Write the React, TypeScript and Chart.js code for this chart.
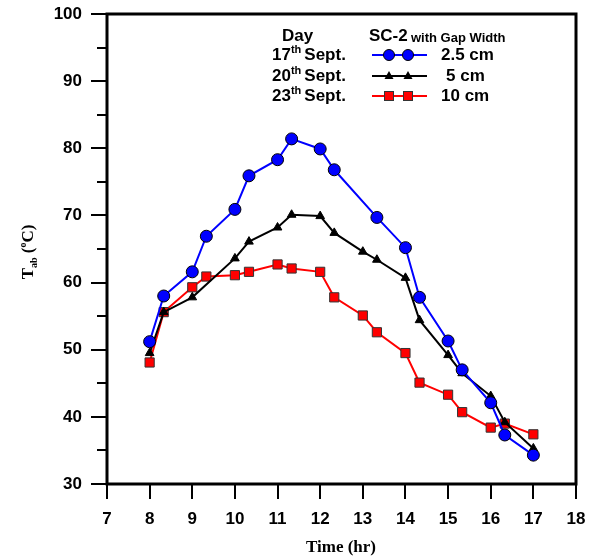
import React, { useEffect, useRef } from "react";
import { Chart, registerables } from "chart.js";

Chart.register(...registerables);

const xBlue = [8, 8.33, 9, 9.33, 10, 10.33, 11, 11.33, 12, 12.33, 13.33, 14, 14.33, 15, 15.33, 16, 16.33, 17];
const yBlue = [51.2, 58.0, 61.6, 66.9, 70.9, 75.9, 78.3, 81.4, 79.9, 76.8, 69.7, 65.2, 57.8, 51.3, 47.0, 42.1, 37.3, 34.3];

const xBlack = [8, 8.33, 9, 10, 10.33, 11, 11.33, 12, 12.33, 13, 13.33, 14, 14.33, 15, 15.33, 16, 16.33, 17];
const yBlack = [49.5, 55.6, 57.8, 63.6, 66.1, 68.2, 70.1, 69.9, 67.4, 64.6, 63.4, 60.7, 54.4, 49.2, 46.5, 43.1, 39.2, 35.3];

const xRed = [8, 8.33, 9, 9.33, 10, 10.33, 11, 11.33, 12, 12.33, 13, 13.33, 14, 14.33, 15, 15.33, 16, 16.33, 17];
const yRed = [48.1, 55.6, 59.3, 60.9, 61.1, 61.6, 62.7, 62.1, 61.6, 57.8, 55.1, 52.6, 49.5, 45.1, 43.3, 40.7, 38.4, 39.0, 37.4];

const dayLabels = ["17", "20", "23"];
const gapLabels = ["2.5 cm", "5 cm", "10 cm"];

const toPts = (xs: number[], ys: number[]) => xs.map((x, i) => ({ x, y: ys[i] }));

const drawPlugin = {
  id: "decor",
  afterDraw(chart: any) {
    const ctx = chart.ctx as CanvasRenderingContext2D;
    const { left, right, top, bottom } = chart.chartArea;
    const xs = chart.scales.x;
    const ys = chart.scales.y;
    ctx.save();
    // box
    ctx.strokeStyle = "#000";
    ctx.lineWidth = 3;
    ctx.strokeRect(left, top, right - left, bottom - top);
    // ticks
    ctx.lineWidth = 2;
    ctx.beginPath();
    for (let v = 7; v <= 18; v++) {
      const px = Math.round(xs.getPixelForValue(v));
      ctx.moveTo(px, bottom);
      ctx.lineTo(px, bottom + 15);
    }
    for (let v = 30; v <= 100; v += 5) {
      const py = Math.round(ys.getPixelForValue(v));
      const len = v % 10 === 0 ? 16 : 10;
      ctx.moveTo(left, py);
      ctx.lineTo(left - len, py);
    }
    ctx.stroke();

    // x title
    ctx.fillStyle = "#000";
    ctx.font = "bold 17px 'Liberation Serif', 'Times New Roman', serif";
    ctx.textAlign = "center";
    ctx.textBaseline = "middle";
    ctx.fillText("Time (hr)", 341, 548);

    // y title (rotated)
    ctx.save();
    ctx.translate(27, 252);
    ctx.rotate(-Math.PI / 2);
    ctx.textAlign = "left";
    ctx.textBaseline = "alphabetic";
    const big = "bold 17px 'Liberation Serif', 'Times New Roman', serif";
    const small = "bold 10px 'Liberation Serif', 'Times New Roman', serif";
    const parts: [string, string, number][] = [
      ["T", big, 0],
      ["ab", small, 4],
      [" (", big, 0],
      ["o", small, -7],
      ["C)", big, 0],
    ];
    let total = 0;
    parts.forEach(([t, f]) => {
      ctx.font = f;
      total += ctx.measureText(t).width;
    });
    let cx = -total / 2;
    parts.forEach(([t, f, dy]) => {
      ctx.font = f;
      ctx.fillText(t, cx, 6 + dy);
      cx += ctx.measureText(t).width;
    });
    ctx.restore();

    // legend
    const sans = "'Liberation Sans', Arial, sans-serif";
    ctx.textBaseline = "middle";
    ctx.textAlign = "left";
    ctx.font = `bold 17px ${sans}`;
    ctx.fillText("Day", 282, 36);
    ctx.fillText("SC-2", 369, 36);
    ctx.font = `bold 13px ${sans}`;
    ctx.fillText("with Gap Width", 411, 38);

    const rowsY = [55, 76, 96];
    const colors = ["#0000FF", "#000000", "#FF0000"];
    rowsY.forEach((ry, i) => {
      let x0 = 272;
      ctx.fillStyle = "#000";
      ctx.font = `bold 17px ${sans}`;
      ctx.fillText(dayLabels[i], x0, ry);
      x0 += ctx.measureText(dayLabels[i]).width;
      ctx.font = `bold 11px ${sans}`;
      ctx.fillText("th", x0, ry - 5);
      x0 += ctx.measureText("th").width + 3;
      ctx.font = `bold 17px ${sans}`;
      ctx.fillText("Sept.", x0, ry);
      // line sample
      ctx.strokeStyle = colors[i];
      ctx.lineWidth = 2;
      ctx.beginPath();
      ctx.moveTo(372, ry);
      ctx.lineTo(427, ry);
      ctx.stroke();
      [389, 408].forEach((mx) => {
        ctx.lineWidth = 1;
        if (i === 0) {
          ctx.beginPath();
          ctx.arc(mx, ry, 5.5, 0, Math.PI * 2);
          ctx.fillStyle = "#0000FF";
          ctx.fill();
          ctx.strokeStyle = "#000";
          ctx.stroke();
        } else if (i === 1) {
          ctx.beginPath();
          ctx.moveTo(mx, ry - 5);
          ctx.lineTo(mx + 4.5, ry + 3);
          ctx.lineTo(mx - 4.5, ry + 3);
          ctx.closePath();
          ctx.fillStyle = "#000";
          ctx.fill();
        } else {
          ctx.fillStyle = "#FF0000";
          ctx.fillRect(mx - 4.5, ry - 4.5, 9, 9);
          ctx.strokeStyle = "#333";
          ctx.strokeRect(mx - 4.5, ry - 4.5, 9, 9);
        }
      });
      ctx.fillStyle = "#000";
      ctx.font = `bold 17px ${sans}`;
      ctx.fillText(gapLabels[i], i === 1 ? 446 : 441, ry);
    });
    ctx.restore();
  },
};

export default function App() {
  const ref = useRef<HTMLCanvasElement | null>(null);
  useEffect(() => {
    if (!ref.current) return;
    const sans = "'Liberation Sans', Arial, sans-serif";
    const chart = new Chart(ref.current, {
      type: "line",
      data: {
        datasets: [
          {
            label: "17th Sept. 2.5 cm",
            data: toPts(xBlue, yBlue),
            borderColor: "#0000FF",
            backgroundColor: "#0000FF",
            pointBackgroundColor: "#0000FF",
            pointBorderColor: "#000",
            pointBorderWidth: 1,
            pointStyle: "circle",
            pointRadius: 6,
            borderWidth: 2,
          },
          {
            label: "20th Sept. 5 cm",
            data: toPts(xBlack, yBlack),
            borderColor: "#000000",
            backgroundColor: "#000000",
            pointBackgroundColor: "#000",
            pointBorderColor: "#000",
            pointBorderWidth: 1,
            pointStyle: "triangle",
            pointRadius: 5,
            borderWidth: 2,
          },
          {
            label: "23th Sept. 10 cm",
            data: toPts(xRed, yRed),
            borderColor: "#FF0000",
            backgroundColor: "#FF0000",
            pointBackgroundColor: "#FF0000",
            pointBorderColor: "#333",
            pointBorderWidth: 1,
            pointStyle: "rect",
            pointRadius: 6.5,
            borderWidth: 2,
          },
        ],
      },
      options: {
        responsive: false,
        animation: false,
        layout: { padding: { top: 14, right: 14, left: 0, bottom: 0 } },
        plugins: { legend: { display: false }, tooltip: { enabled: false } },
        scales: {
          x: {
            type: "linear",
            min: 7,
            max: 18,
            grid: { display: false, drawTicks: false },
            border: { display: false },
            ticks: {
              stepSize: 1,
              autoSkip: false,
              maxRotation: 0,
              padding: 25,
              color: "#000",
              font: { family: sans, size: 17, weight: "bold" },
            },
            afterFit: (s: any) => {
              s.height = 74;
              s.paddingLeft = 0;
              s.paddingRight = 0;
            },
          },
          y: {
            type: "linear",
            min: 30,
            max: 100,
            grid: { display: false, drawTicks: false },
            border: { display: false },
            ticks: {
              stepSize: 10,
              padding: 25,
              color: "#000",
              font: { family: sans, size: 17, weight: "bold" },
            },
            afterFit: (s: any) => {
              s.width = 107;
              s.paddingTop = 0;
              s.paddingBottom = 0;
            },
          },
        },
      } as any,
      plugins: [drawPlugin],
    });
    return () => chart.destroy();
  }, []);
  return (
    <div style={{ position: "absolute", left: 0, top: 0, width: 590, height: 558, background: "#fff" }}>
      <canvas ref={ref} width={590} height={558} style={{ display: "block" }} />
    </div>
  );
}
